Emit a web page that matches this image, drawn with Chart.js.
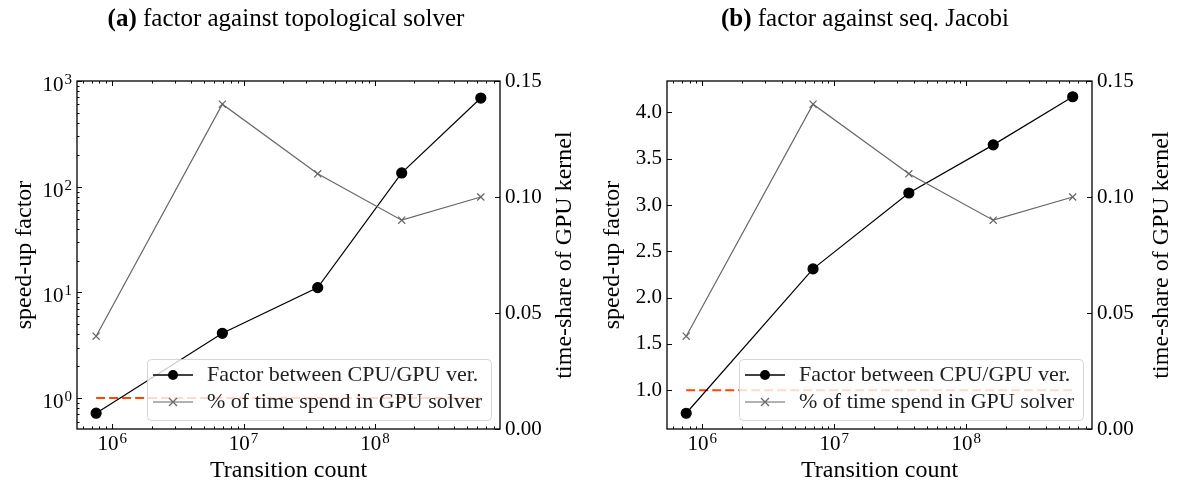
<!DOCTYPE html>
<html>
<head>
<meta charset="utf-8">
<script src="https://cdn.jsdelivr.net/npm/chart.js@4.4.0/dist/chart.umd.min.js"></script>
<style>
  html, body { margin: 0; padding: 0; background: #fff; }
  #wrap { position: relative; width: 1177px; height: 489px; overflow: hidden; }
  canvas { position: absolute; top: 0; }
  .title {
    position: absolute; top: 0; transform: translateX(-50%);
    font-family: "Liberation Serif", serif; font-size: 25px; line-height: 36px;
    color: #000; white-space: nowrap;
  }
</style>
</head>
<body>
<div id="wrap">
  <canvas id="chartA" width="588" height="489" style="left:0"></canvas>
  <canvas id="chartB" width="589" height="489" style="left:588px"></canvas>
  <div class="title" style="left:286px"><b>(a)</b> factor against topological solver</div>
  <div class="title" style="left:865px"><b>(b)</b> factor against seq. Jacobi</div>
</div>
<script>
// values
const transitions = [7.55e5, 6.9e6, 3.67e7, 1.6e8, 6.4e8];
const speedupTopo = [0.72, 4.1, 11.1, 135, 690];
const speedupJacobi = [0.75, 2.31, 3.13, 3.65, 4.17];
const gpuShare = [0.04, 0.14, 0.11, 0.09, 0.10];
const breakEven = [1, 1];

const xTicks = [1e6, 1e7, 1e8];
const topoTicks = [1, 10, 100, 1000];
const jacobiTicks = [1.0, 1.5, 2.0, 2.5, 3.0, 3.5, 4.0];
const shareTicks = [0, 0.05, 0.10, 0.15];
const legendLabels = ['Factor between CPU/GPU ver.', '% of time spend in GPU solver'];

const FONT = '"Liberation Serif", serif';
const TICK_SIZE = 21;

const pts = ys => ys.map((y, i) => ({x: transitions[i], y}));
const refPts = () => [
  {x: transitions[0], y: breakEven[0]},
  {x: transitions[transitions.length - 1], y: breakEven[1]}
];

function logMinors(min, max) {
  const out = [];
  for (let e = Math.floor(Math.log10(min)); e <= Math.ceil(Math.log10(max)); e++) {
    for (let m = 2; m <= 9; m++) {
      const v = m * Math.pow(10, e);
      if (v >= min && v <= max) out.push(v);
    }
  }
  return out;
}

// power of ten label: "10" plus a smaller raised exponent
function drawPow(ctx, v, x, y, align) {
  const exp = String(Math.round(Math.log10(v)));
  ctx.font = TICK_SIZE + 'px ' + FONT;
  const w1 = ctx.measureText('10').width;
  ctx.font = '15px ' + FONT;
  const w2 = ctx.measureText(exp).width;
  const total = w1 + w2 + 1;
  let x0 = align === 'right' ? x - total : x - total / 2;
  ctx.textAlign = 'left';
  ctx.textBaseline = 'alphabetic';
  ctx.font = TICK_SIZE + 'px ' + FONT;
  ctx.fillText('10', x0, y);
  ctx.font = '15px ' + FONT;
  ctx.fillText(exp, x0 + w1 + 1, y - 7);
}

const framePlugin = {
  id: 'frame',
  afterDatasetsDraw(chart) {
    const {ctx, chartArea: a, scales} = chart;
    const o = chart.options.plugins.frame;
    ctx.save();
    ctx.strokeStyle = '#000';
    ctx.lineWidth = 1;
    const tick = (x1, y1, x2, y2) => {
      ctx.beginPath(); ctx.moveTo(x1, y1); ctx.lineTo(x2, y2); ctx.stroke();
    };
    // x ticks, bottom and top, pointing in
    xTicks.forEach(v => {
      const px = Math.round(scales.x.getPixelForValue(v)) + 0.5;
      tick(px, a.bottom, px, a.bottom - 5);
      tick(px, a.top, px, a.top + 5);
    });
    logMinors(scales.x.min, scales.x.max).forEach(v => {
      const px = Math.round(scales.x.getPixelForValue(v)) + 0.5;
      tick(px, a.bottom, px, a.bottom - 2.5);
      tick(px, a.top, px, a.top + 2.5);
    });
    // left axis ticks
    o.leftTicks.forEach(v => {
      const py = Math.round(scales.y.getPixelForValue(v)) + 0.5;
      tick(a.left, py, a.left + 5, py);
    });
    if (o.leftLog) {
      logMinors(scales.y.min, scales.y.max).forEach(v => {
        const py = Math.round(scales.y.getPixelForValue(v)) + 0.5;
        tick(a.left, py, a.left + 2.5, py);
      });
    }
    // right axis ticks
    shareTicks.forEach(v => {
      const py = Math.round(scales.y2.getPixelForValue(v)) + 0.5;
      tick(a.right, py, a.right - 5, py);
    });
    ctx.lineWidth = 1.3;
    ctx.strokeRect(a.left, a.top, a.right - a.left, a.bottom - a.top);
    ctx.restore();
  },
  afterDraw(chart) {
    const {ctx, chartArea: a, scales} = chart;
    const o = chart.options.plugins.frame;
    ctx.save();
    ctx.fillStyle = '#000';
    // power labels on log axes
    xTicks.forEach(v => drawPow(ctx, v, scales.x.getPixelForValue(v), a.bottom + 21, 'center'));
    if (o.leftLog) {
      o.leftTicks.forEach(v => drawPow(ctx, v, a.left - 5, scales.y.getPixelForValue(v) + 10, 'right'));
    }
    // axis titles
    ctx.font = '24px ' + FONT;
    ctx.textAlign = 'center';
    ctx.textBaseline = 'middle';
    ctx.fillText('Transition count', (a.left + a.right) / 2, 471);
    ctx.save();
    ctx.translate(25, (a.top + a.bottom) / 2);
    ctx.rotate(-Math.PI / 2);
    ctx.fillText('speed-up factor', 0, 0);
    ctx.restore();
    ctx.save();
    ctx.translate(a.right + o.rightTitleOffset, (a.top + a.bottom) / 2);
    ctx.rotate(-Math.PI / 2);
    ctx.fillText('time-share of GPU kernel', 0, 0);
    ctx.restore();

    // legend box, lower right, half transparent like matplotlib
    const w = 344, h = 61;
    const x0 = a.right - 9 - w, y0 = a.bottom - 9 - h;
    ctx.beginPath();
    ctx.roundRect(x0 + 0.5, y0 + 0.5, w, h, 4);
    ctx.fillStyle = 'rgba(255,255,255,0.8)';
    ctx.fill();
    ctx.strokeStyle = 'rgba(204,204,204,0.8)';
    ctx.lineWidth = 1;
    ctx.stroke();

    const rows = [y0 + 16, y0 + 43];
    // row 1: black line + dot
    ctx.strokeStyle = '#000'; ctx.lineWidth = 1.3;
    ctx.beginPath(); ctx.moveTo(x0 + 6, rows[0]); ctx.lineTo(x0 + 46, rows[0]); ctx.stroke();
    ctx.fillStyle = '#000';
    ctx.beginPath(); ctx.arc(x0 + 26, rows[0], 5, 0, Math.PI * 2); ctx.fill();
    // row 2: gray line + x
    ctx.strokeStyle = '#666'; ctx.lineWidth = 1.2;
    ctx.beginPath(); ctx.moveTo(x0 + 6, rows[1]); ctx.lineTo(x0 + 46, rows[1]); ctx.stroke();
    ctx.beginPath();
    ctx.moveTo(x0 + 22, rows[1] - 4); ctx.lineTo(x0 + 30, rows[1] + 4);
    ctx.moveTo(x0 + 22, rows[1] + 4); ctx.lineTo(x0 + 30, rows[1] - 4);
    ctx.stroke();

    ctx.fillStyle = '#222';
    ctx.font = '22px ' + FONT;
    ctx.textAlign = 'left';
    ctx.textBaseline = 'middle';
    ctx.fillText(legendLabels[0], x0 + 60, rows[0]);
    ctx.fillText(legendLabels[1], x0 + 60, rows[1]);
    ctx.restore();
  }
};

function makeChart(id, cfg) {
  const canvas = document.getElementById(id);
  const leftTickOpts = cfg.leftLog
    ? {display: false}
    : {display: true, color: '#000', padding: 5, autoSkip: false,
       font: {family: FONT, size: TICK_SIZE}, callback: v => v.toFixed(1)};
  return new Chart(canvas, {
    type: 'line',
    data: {
      datasets: [
        {
          label: legendLabels[0], data: pts(cfg.speedup), yAxisID: 'y', order: 1,
          borderColor: '#000', borderWidth: 1.2, tension: 0,
          pointRadius: 5, pointStyle: 'circle',
          pointBackgroundColor: '#000', pointBorderColor: '#000'
        },
        {
          label: legendLabels[1], data: pts(gpuShare), yAxisID: 'y2', order: 0,
          borderColor: '#666', borderWidth: 1.2, tension: 0,
          pointRadius: 5, pointStyle: 'crossRot',
          pointBorderColor: '#666', pointBorderWidth: 1.2
        },
        {
          label: 'break-even', data: refPts(), yAxisID: 'y', order: 2,
          borderColor: '#ff4500', borderWidth: 2, borderDash: [9, 4],
          pointRadius: 0, tension: 0
        }
      ]
    },
    options: {
      responsive: false,
      animation: false,
      events: [],
      layout: {padding: {top: 81, left: 0, right: 0, bottom: 0}},
      plugins: {
        legend: {display: false},
        tooltip: {enabled: false},
        frame: {leftTicks: cfg.leftTicks, leftLog: cfg.leftLog, rightTitleOffset: cfg.rightTitleOffset}
      },
      scales: {
        x: {
          type: 'logarithmic', position: 'bottom', min: 5.4e5, max: 8.96e8, bounds: 'data',
          grid: {display: false, drawTicks: false}, border: {display: false},
          ticks: {display: false},
          afterBuildTicks: s => { s.ticks = xTicks.map(v => ({value: v})); },
          afterFit: s => { s.height = 60; }
        },
        y: {
          type: cfg.leftLog ? 'logarithmic' : 'linear', position: 'left',
          min: cfg.leftMin, max: cfg.leftMax, bounds: 'data',
          grid: {display: false, drawTicks: false}, border: {display: false},
          ticks: leftTickOpts,
          afterBuildTicks: s => { s.ticks = cfg.leftTicks.map(v => ({value: v})); },
          afterFit: s => { s.width = cfg.leftWidth; }
        },
        y2: {
          type: 'linear', position: 'right', min: 0, max: 0.15,
          grid: {display: false, drawTicks: false}, border: {display: false},
          ticks: {color: '#000', padding: 5, autoSkip: false,
                  font: {family: FONT, size: TICK_SIZE}, callback: v => v.toFixed(2)},
          afterBuildTicks: s => { s.ticks = shareTicks.map(v => ({value: v})); },
          afterFit: s => { s.width = cfg.rightWidth; }
        }
      }
    },
    plugins: [framePlugin]
  });
}

makeChart('chartA', {
  speedup: speedupTopo, leftLog: true, leftMin: 0.51, leftMax: 1000,
  leftTicks: topoTicks, leftWidth: 77, rightWidth: 88, rightTitleOffset: 65
});
makeChart('chartB', {
  speedup: speedupJacobi, leftLog: false, leftMin: 0.58, leftMax: 4.34,
  leftTicks: jacobiTicks, leftWidth: 79, rightWidth: 85, rightTitleOffset: 70
});
</script>
</body>
</html>
